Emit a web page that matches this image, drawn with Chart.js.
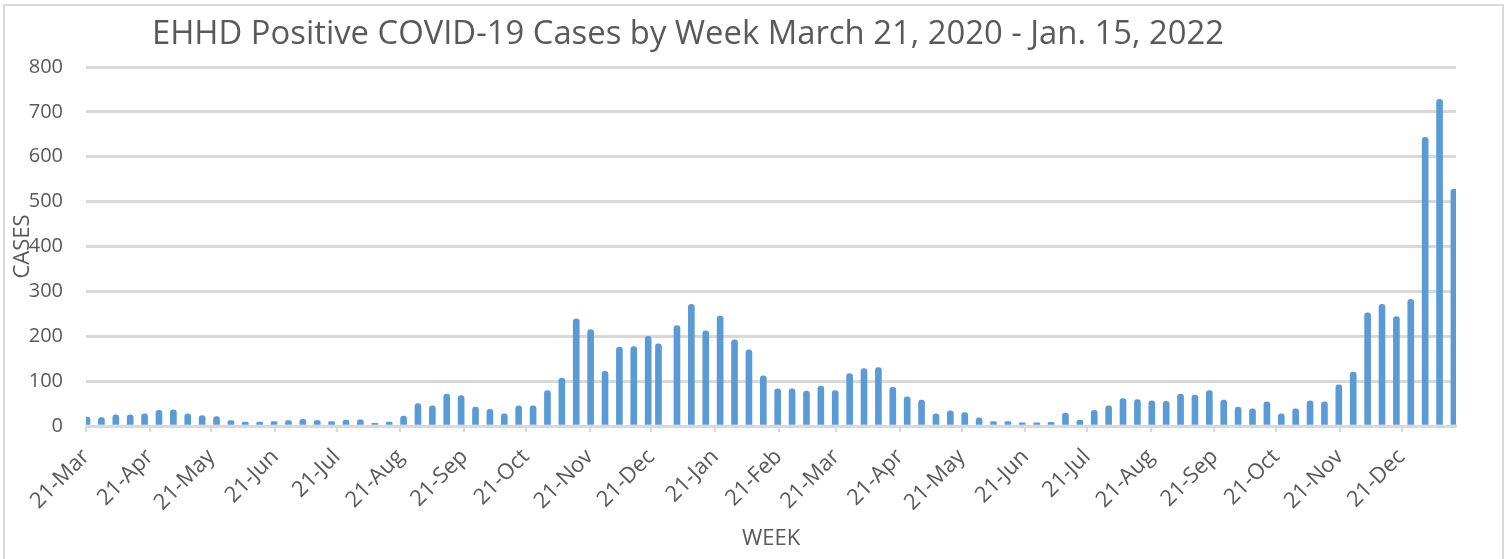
<!DOCTYPE html>
<html>
<head>
<meta charset="utf-8">
<title>EHHD Positive COVID-19 Cases by Week</title>
<script src="https://cdn.jsdelivr.net/npm/chart.js@4.4.0/dist/chart.umd.min.js"></script>
<style>
  html, body { margin: 0; padding: 0; background: #fff; }
  #wrap { width: 1507px; height: 559px; }
</style>
</head>
<body>
<div id="wrap"><canvas id="weekChart" width="1507" height="559"></canvas></div>
<script>
const chartTitle = 'EHHD Positive COVID-19 Cases by Week March 21, 2020 - Jan. 15, 2022';

// week ending dates (Christmas 2020 was reported on the 24th)
const weekDates = [
    '2020-03-21', '2020-03-28', '2020-04-04', '2020-04-11', '2020-04-18', '2020-04-25',
    '2020-05-02', '2020-05-09', '2020-05-16', '2020-05-23', '2020-05-30',
    '2020-06-06', '2020-06-13', '2020-06-20', '2020-06-27',
    '2020-07-04', '2020-07-11', '2020-07-18', '2020-07-25',
    '2020-08-01', '2020-08-08', '2020-08-15', '2020-08-22', '2020-08-29',
    '2020-09-05', '2020-09-12', '2020-09-19', '2020-09-26',
    '2020-10-03', '2020-10-10', '2020-10-17', '2020-10-24', '2020-10-31',
    '2020-11-07', '2020-11-14', '2020-11-21', '2020-11-28',
    '2020-12-05', '2020-12-12', '2020-12-19', '2020-12-24',
    '2021-01-02', '2021-01-09', '2021-01-16', '2021-01-23', '2021-01-30',
    '2021-02-06', '2021-02-13', '2021-02-20', '2021-02-27',
    '2021-03-06', '2021-03-13', '2021-03-20', '2021-03-27',
    '2021-04-03', '2021-04-10', '2021-04-17', '2021-04-24',
    '2021-05-01', '2021-05-08', '2021-05-15', '2021-05-22', '2021-05-29',
    '2021-06-05', '2021-06-12', '2021-06-19', '2021-06-26',
    '2021-07-03', '2021-07-10', '2021-07-17', '2021-07-24', '2021-07-31',
    '2021-08-07', '2021-08-14', '2021-08-21', '2021-08-28',
    '2021-09-04', '2021-09-11', '2021-09-18', '2021-09-25',
    '2021-10-02', '2021-10-09', '2021-10-16', '2021-10-23', '2021-10-30',
    '2021-11-06', '2021-11-13', '2021-11-20', '2021-11-27',
    '2021-12-04', '2021-12-11', '2021-12-18', '2021-12-25',
    '2022-01-01', '2022-01-08', '2022-01-15'
];

const cases = [
    20, 19, 25, 25, 27, 35, 36, 27, 23, 21, 12, 9, 9, 10, 12, 15, 12, 10, 13, 14, 6,
    9, 22, 50, 45, 71, 68, 42, 37, 27, 45, 45, 79, 107, 239, 215, 122, 176, 177, 200, 183,
    224, 271, 212, 245, 192,
    170, 112, 83, 83, 78, 89, 79, 117, 128, 130, 86, 65, 58, 27, 34, 30, 18, 10, 10, 7, 7,
    8, 29, 13, 35, 45,
    61, 59, 56, 55, 71, 69, 79, 58, 42, 38, 54, 27, 38, 56, 54, 92, 120, 252, 271, 244, 282,
    643, 728, 528
];

const tickDates = [
    '2020-03-21', '2020-04-21', '2020-05-21', '2020-06-21', '2020-07-21', '2020-08-21',
    '2020-09-21', '2020-10-21', '2020-11-21', '2020-12-21', '2021-01-21', '2021-02-21',
    '2021-03-21', '2021-04-21', '2021-05-21', '2021-06-21', '2021-07-21', '2021-08-21',
    '2021-09-21', '2021-10-21', '2021-11-21', '2021-12-21'
];
const tickLabels = [
    '21-Mar', '21-Apr', '21-May', '21-Jun', '21-Jul', '21-Aug', '21-Sep', '21-Oct', '21-Nov', '21-Dec',
    '21-Jan', '21-Feb', '21-Mar', '21-Apr', '21-May', '21-Jun', '21-Jul', '21-Aug', '21-Sep', '21-Oct',
    '21-Nov', '21-Dec'
];

const startDay = Date.parse('2020-03-21');
const dayIndex = d => (Date.parse(d) - startDay) / 86400000;

const textColor = '#595959';
const gridColor = '#d9d9d9';
const font = 'Open Sans';

// outer chart box + the big title (Excel puts it left of centre)
const framePlugin = {
    id: 'frame',
    beforeDraw(chart) {
        const ctx = chart.ctx;
        ctx.save();
        ctx.fillStyle = '#fff';
        ctx.fillRect(0, 0, chart.width, chart.height);
        ctx.strokeStyle = gridColor;
        ctx.lineWidth = 2;
        ctx.strokeRect(4, 5, chart.width - 8, chart.height + 20);
        ctx.restore();
    },
    afterDraw(chart) {
        const ctx = chart.ctx;
        ctx.save();
        ctx.font = `100px "${font}"`;
        const size = 100 * 1073 / ctx.measureText(chartTitle).width;
        ctx.font = `${size.toFixed(1)}px "${font}"`;
        ctx.fillStyle = textColor;
        ctx.textAlign = 'center';
        ctx.textBaseline = 'alphabetic';
        ctx.fillText(chartTitle, 688, 44);
        ctx.restore();
    }
};

const ctx = document.getElementById('weekChart').getContext('2d');
new Chart(ctx, {
    type: 'bar',
    data: {
        datasets: [{
            label: 'Cases',
            data: weekDates.map((d, i) => ({ x: dayIndex(d) + 0.5, y: cases[i] })),
            backgroundColor: '#5b9bd5',
            barThickness: 6,
            borderRadius: { topLeft: 3, topRight: 3 },
            borderSkipped: 'bottom'
        }]
    },
    options: {
        responsive: false,
        animation: false,
        layout: { padding: { top: 67, right: 51, left: 0, bottom: 0 } },
        plugins: {
            legend: { display: false },
            tooltip: { enabled: false }
        },
        scales: {
            x: {
                type: 'linear',
                offset: false,
                min: 0,
                max: 666.5,
                afterBuildTicks: s => { s.ticks = tickDates.map(d => ({ value: dayIndex(d) })); },
                afterFit: s => { s.height = 133; },
                ticks: {
                    autoSkip: false,
                    minRotation: 45,
                    maxRotation: 45,
                    padding: 12,
                    color: textColor,
                    font: { family: font, size: 22 },
                    callback: (v, i) => tickLabels[i]
                },
                grid: { offset: false, drawOnChartArea: false, drawTicks: true, tickLength: 6, color: gridColor, lineWidth: 2 },
                border: { display: true, color: gridColor, width: 2.5 },
                title: {
                    display: true, text: 'WEEK', color: textColor,
                    font: { family: font, size: 22 },
                    padding: { top: 0, bottom: 7 }
                }
            },
            y: {
                min: 0,
                max: 800,
                afterFit: s => { s.width = 86; },
                ticks: { stepSize: 100, padding: 23, color: textColor, font: { family: font, size: 20 } },
                grid: { color: gridColor, lineWidth: 3, drawTicks: false },
                border: { display: false },
                title: {
                    display: true, text: 'CASES', color: textColor,
                    font: { family: font, size: 22 },
                    padding: { top: 10, bottom: 0 }
                }
            }
        }
    },
    plugins: [framePlugin]
});
</script>
</body>
</html>
